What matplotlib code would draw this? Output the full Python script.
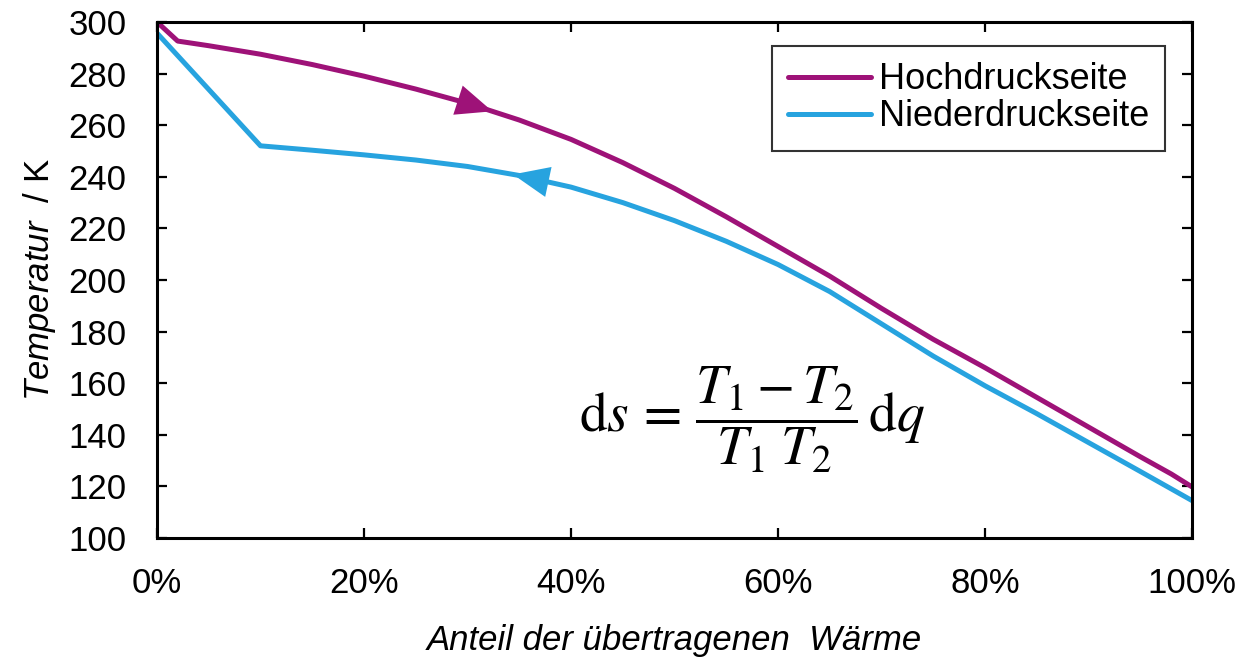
import matplotlib
matplotlib.use("Agg")
import matplotlib.pyplot as plt
from matplotlib.ticker import PercentFormatter
import numpy as np

plt.rcParams['font.family'] = ['Liberation Sans', 'DejaVu Sans']
plt.rcParams['mathtext.fontset'] = 'custom'
plt.rcParams['mathtext.rm'] = 'Liberation Sans'
plt.rcParams['mathtext.it'] = 'Liberation Sans:italic'

# Share of transferred heat (fraction) and temperatures in K
hoch_x = [0.0, 0.02, 0.05, 0.10, 0.15, 0.20, 0.25, 0.30, 0.35, 0.40, 0.45, 0.50,
          0.55, 0.60, 0.65, 0.70, 0.75, 0.80, 0.85, 0.90, 0.95, 0.98, 1.00]
hoch_T = [300.0, 292.6, 290.8, 287.5, 283.5, 279.0, 274.0, 268.5, 262.0, 254.5, 245.5, 235.5,
          224.5, 213.0, 201.5, 189.0, 177.0, 166.0, 154.5, 143.0, 131.5, 124.8, 119.8]

nieder_x = [0.0, 0.10, 0.15, 0.20, 0.25, 0.30, 0.35, 0.40, 0.45, 0.50, 0.55, 0.60,
            0.65, 0.70, 0.75, 0.80, 0.85, 0.90, 0.95, 1.00]
nieder_T = [295.7, 252.0, 250.3, 248.5, 246.5, 244.0, 240.5, 236.0, 230.0, 223.0, 215.0, 206.0,
            195.5, 183.0, 170.5, 159.0, 148.2, 137.0, 125.8, 114.5]

y_ticks = [100, 120, 140, 160, 180, 200, 220, 240, 260, 280, 300]
x_ticks = [0.0, 0.2, 0.4, 0.6, 0.8, 1.0]

col_hoch = '#9E1278'
col_nieder = '#27A3DF'
FS = 25

fig = plt.figure(figsize=(12.43, 6.62), dpi=100)
ax = fig.add_axes([0.1263, 0.1873, 0.959 - 0.1263, 0.9668 - 0.1873])

ax.plot(hoch_x, hoch_T, color=col_hoch, lw=3.6, label='Hochdruckseite',
        solid_capstyle='round', solid_joinstyle='round')
ax.plot(nieder_x, nieder_T, color=col_nieder, lw=3.6, label='Niederdruckseite',
        solid_capstyle='round', solid_joinstyle='round')

# direction arrows on the curves
def curve_arrow(xs, ys, tip, back, color):
    t0 = np.interp(back, xs, ys)
    t1 = np.interp(tip, xs, ys)
    ax.annotate('', xy=(tip, t1), xytext=(back, t0),
                arrowprops=dict(arrowstyle='-|>,head_length=1.3,head_width=0.55',
                                color=color, lw=0, mutation_scale=20,
                                shrinkA=0, shrinkB=0))

curve_arrow(hoch_x, hoch_T, 0.324, 0.300, col_hoch)
curve_arrow(nieder_x, nieder_T, 0.344, 0.370, col_nieder)

ax.set_xlim(0, 1)
ax.set_ylim(100, 300)
ax.set_xticks(x_ticks)
ax.set_yticks(y_ticks)
ax.xaxis.set_major_formatter(PercentFormatter(1.0, decimals=0))

for s in ax.spines.values():
    s.set_linewidth(2.2)
ax.tick_params(axis='both', direction='in', length=7, width=1.6,
               labelsize=FS, top=True, right=True)
ax.tick_params(axis='x', pad=21)
ax.tick_params(axis='y', pad=22)

ax.set_xlabel('Anteil der übertragenen  Wärme', fontsize=FS, style='italic', labelpad=17)
ax.set_ylabel(r'$\mathit{Temperatur}$  / K', fontsize=FS)
ax.yaxis.set_label_coords(-0.096, 0.5)

eq = ax.text(0.575, 0.23,
             r'$\mathrm{d}s\,=\,\dfrac{T_1-T_2}{T_1\;T_2}\,\mathrm{d}q$',
             transform=ax.transAxes, fontsize=40, ha='center', va='center')
eq.set_math_fontfamily('stix')

leg = ax.legend(loc='upper right', bbox_to_anchor=(0.974, 0.953), fontsize=FS + 1,
                frameon=True, fancybox=False, handlelength=2.3, handletextpad=0.2,
                borderpad=0.45, labelspacing=0.05, borderaxespad=0)
leg.get_frame().set_edgecolor('black')
leg.get_frame().set_linewidth(1.5)

fig.savefig('out.png', dpi=100)
